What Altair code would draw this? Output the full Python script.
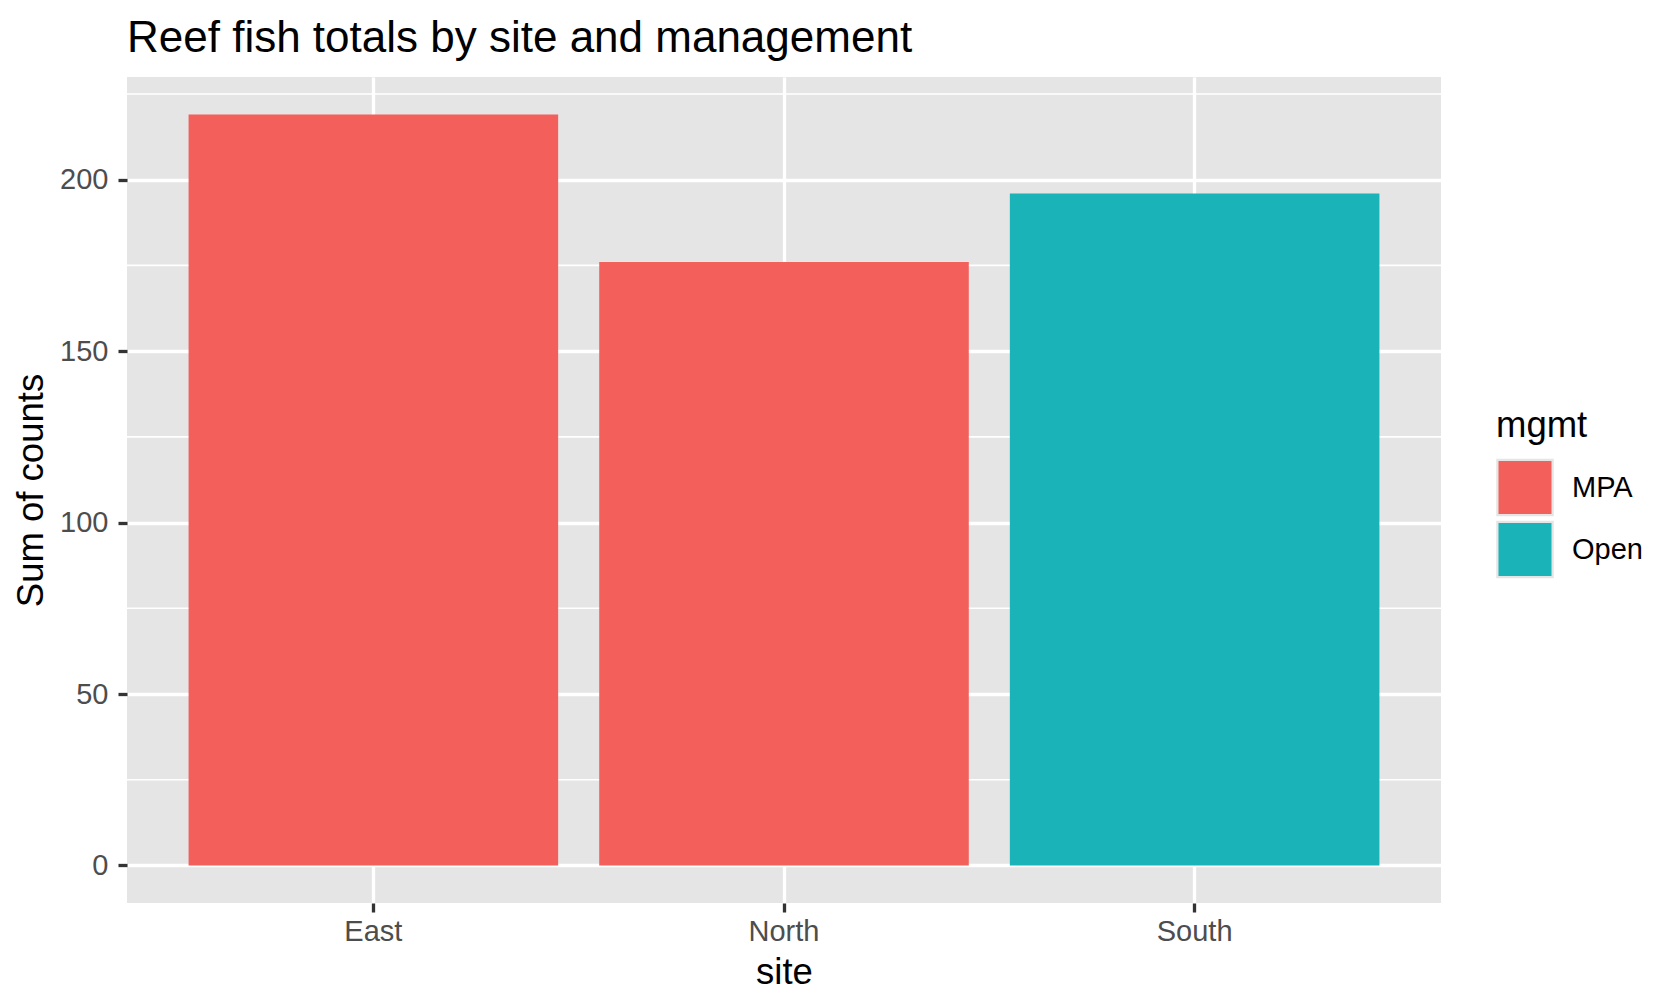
import altair as alt
import pandas as pd

# Data
sites = ["East", "North", "South"]
mgmt = ["MPA", "MPA", "Open"]
counts = [219, 176, 196]

mgmt_levels = ["MPA", "Open"]
mgmt_colors = ["#F35F5B", "#19B3B8"]

y_major = [0, 50, 100, 150, 200]
y_minor = [25, 75, 125, 175, 225]
y_domain = [-10.95, 229.95]

FONT = "Liberation Sans"
GRID_W = 3.3
TITLE_FS = 44
AXIS_TITLE_FS = 36.5
TICK_FS = 29

df = pd.DataFrame({"site": sites, "mgmt": mgmt, "count": counts})
minor_df = pd.DataFrame({"v": y_minor})

yscale = alt.Scale(domain=y_domain, nice=False, zero=False)

y_axis = alt.Axis(
    title="Sum of counts",
    values=y_major,
    titleFont=FONT,
    titleFontSize=AXIS_TITLE_FS,
    titleFontWeight="normal",
    titleColor="black",
    titlePadding=9,
    labelFont=FONT,
    labelFontSize=TICK_FS,
    labelColor="#4D4D4D",
    labelPadding=10,
    tickSize=9,
    tickWidth=GRID_W,
    tickColor="#333333",
    domain=False,
    grid=True,
    gridColor="white",
    gridWidth=GRID_W,
)

minor = alt.Chart(minor_df).mark_rule(color="white", strokeWidth=GRID_W / 2).encode(
    y=alt.Y("v:Q", scale=yscale, axis=y_axis, title="Sum of counts")
)

bars = alt.Chart(df).mark_bar(opacity=1).encode(
    x=alt.X(
        "site:N",
        sort=sites,
        scale=alt.Scale(paddingInner=0.1, paddingOuter=0.15),
        axis=alt.Axis(
            title="site",
            titleFont=FONT,
            titleFontSize=AXIS_TITLE_FS,
            titleFontWeight="normal",
            titleColor="black",
            titlePadding=8,
            labelFont=FONT,
            labelFontSize=TICK_FS,
            labelColor="#4D4D4D",
            labelPadding=5,
            labelAngle=0,
            tickSize=9,
            tickWidth=GRID_W,
            tickColor="#333333",
            domain=False,
            grid=True,
            gridColor="white",
            gridWidth=GRID_W,
            bandPosition=0.5,
        ),
    ),
    y=alt.Y("count:Q", scale=yscale, axis=y_axis, title="Sum of counts"),
    y2=alt.datum(0),
    color=alt.Color(
        "mgmt:N",
        scale=alt.Scale(domain=mgmt_levels, range=mgmt_colors),
        legend=alt.Legend(
            title="mgmt",
            orient="none",
            legendX=1369,
            legendY=331,
            titleFont=FONT,
            titleFontSize=AXIS_TITLE_FS,
            titleFontWeight="normal",
            titleColor="black",
            titlePadding=14,
            labelFont=FONT,
            labelFontSize=TICK_FS,
            labelColor="black",
            labelOffset=18,
            symbolType="square",
            symbolSize=3052,
            symbolStrokeColor="#E5E5E5",
            symbolStrokeWidth=2.25,
            symbolOpacity=1,
            rowPadding=-8,
        ),
    ),
)

chart = (
    alt.layer(minor, bars)
    .properties(
        width=1314,
        height=826,
        padding={"left": 119, "top": 69, "right": 230, "bottom": 90},
        autosize=alt.AutoSizeParams(type="none"),
        background="white",
        title=alt.TitleParams(
            "Reef fish totals by site and management",
            anchor="start",
            frame="group",
            font=FONT,
            fontSize=TITLE_FS,
            fontWeight="normal",
            color="black",
            offset=16,
        ),
    )
    .configure_view(fill="#E5E5E5", strokeWidth=0)
)

chart.save("out.html", embed_options={"renderer": "svg", "actions": False})
